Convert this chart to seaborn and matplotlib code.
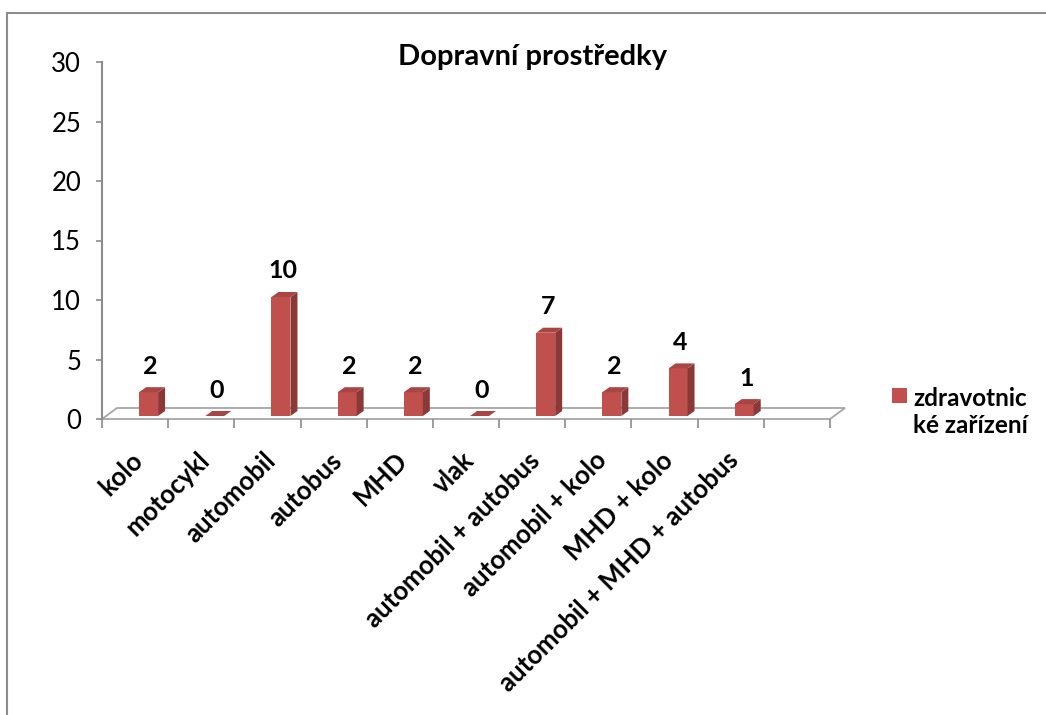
import numpy as np
import pandas as pd
import matplotlib
matplotlib.use("Agg")
import matplotlib.pyplot as plt
import seaborn as sns
from matplotlib import transforms
from matplotlib.patches import Polygon, Rectangle
from matplotlib.lines import Line2D

# ---------------- data ----------------
categories = ["kolo", "motocykl", "automobil", "autobus", "MHD", "vlak",
              "automobil + autobus", "automobil + kolo", "MHD + kolo",
              "automobil + MHD + autobus"]
values = [2, 0, 10, 2, 2, 0, 7, 2, 4, 1]
series_name = "zdravotnické zařízení"
legend_label = "zdravotnic\nké zařízení"
title = "Dopravní prostředky"
y_ticks = [0, 5, 10, 15, 20, 25, 30]

# ---------------- style ----------------
sns.set_theme(style="white")
plt.rcParams["font.family"] = ["Lato", "DejaVu Sans"]
plt.rcParams["text.color"] = "black"
plt.rcParams["xtick.color"] = "black"
plt.rcParams["ytick.color"] = "black"

FRONT = "#C0504D"
TOP = "#A94643"
SIDE = "#8A3936"
GRID = "#A6A6A6"
AXIS = "#8C8C8C"

W, H = 1046, 715
fig = plt.figure(figsize=(W / 100, H / 100), dpi=100)
fig.patch.set_facecolor("white")

n_slots = len(categories) + 1
ax = fig.add_axes([102 / W, 1 - 419 / H, (830 - 102) / W, (419 - 62) / H])
ax.set_facecolor("none")

df = pd.DataFrame({"cat": categories, "val": values, "series": series_name})
sns.barplot(data=df, x="cat", y="val", order=categories, color=FRONT,
            saturation=1, width=0.287, ax=ax, legend=False)

ax.set_xlim(-0.5, n_slots - 0.5)
ax.set_ylim(y_ticks[0], y_ticks[-1])
ax.set_xlabel("")
ax.set_ylabel("")

ppx = ax.bbox.width / n_slots
ppy = ax.bbox.height / (y_ticks[-1] - y_ticks[0])

# floor (3D base)
fdx, fdy = 15 / ppx, 11 / ppy
floor = Polygon([(-0.5, 0), (n_slots - 0.5, 0), (n_slots - 0.5 + fdx, fdy), (-0.5 + fdx, fdy)],
                closed=True, facecolor="none", edgecolor=GRID, lw=1.3,
                transform=ax.transData, clip_on=False, zorder=0.5)
ax.add_patch(floor)

# 3D bars
bar_trans = ax.transData + transforms.ScaledTranslation(0.135, 0.03, fig.dpi_scale_trans)
ddx, ddy = 7 / ppx, 5 / ppy
for p, v in zip(ax.containers[0].patches, values):
    x0, w, h = p.get_x(), p.get_width(), p.get_height()
    p.set_transform(bar_trans)
    p.set_edgecolor("none")
    p.set_zorder(2)
    p.set_clip_on(False)
    side = Polygon([(x0 + w, 0), (x0 + w + ddx, ddy), (x0 + w + ddx, h + ddy), (x0 + w, h)],
                   closed=True, facecolor=SIDE, edgecolor="none", transform=bar_trans,
                   clip_on=False, zorder=2)
    top = Polygon([(x0, h), (x0 + w, h), (x0 + w + ddx, h + ddy), (x0 + ddx, h + ddy)],
                  closed=True, facecolor=TOP, edgecolor="none", transform=bar_trans,
                  clip_on=False, zorder=2)
    ax.add_patch(side)
    ax.add_patch(top)
    ax.annotate(f"{v}", xy=(x0 + w / 2, h), xycoords=bar_trans, xytext=(2, 26),
                textcoords="offset pixels", ha="center", va="center",
                fontsize=18, fontweight="bold", color="black")

# axes styling
for s in ["top", "right", "bottom"]:
    ax.spines[s].set_visible(False)
ax.spines["left"].set_color(AXIS)
ax.spines["left"].set_linewidth(1.5)

ax.set_yticks(y_ticks)
ax.set_yticklabels([str(t) for t in y_ticks], fontsize=18.5)
ax.tick_params(axis="y", direction="out", length=4, width=1.2, color=AXIS, pad=11, left=True)

ax.set_xticks(np.arange(len(categories)))
ax.set_xticks(np.arange(-0.5, n_slots, 1), minor=True)
ax.tick_params(axis="x", which="minor", direction="out", length=6.5, width=1.2, color=AXIS, bottom=True)
ax.tick_params(axis="x", which="major", length=0, pad=27)
ax.set_xticklabels(categories, rotation=45, ha="right", va="center",
                   rotation_mode="anchor", fontsize=18.5, fontweight="bold")
lab_shift = transforms.ScaledTranslation(0.04, 0, fig.dpi_scale_trans)
for lbl in ax.get_xticklabels():
    lbl.set_transform(lbl.get_transform() + lab_shift)

# title
fig.text(533 / W, 1 - 57 / H, title, ha="center", va="center",
         fontsize=21, fontweight="bold")

# legend
fig.add_artist(Rectangle((892 / W, 1 - 403 / H), 15 / W, 15 / H,
                         transform=fig.transFigure, facecolor=FRONT, edgecolor="none"))
fig.text(913 / W, 1 - 433 / H, legend_label, ha="left", va="baseline",
         fontsize=17.5, fontweight="bold", linespacing=1.23,
         transform=fig.transFigure)

# chart frame (top + left edges visible)
fig.add_artist(Line2D([7 / W, 7 / W], [0, 1 - 13 / H], transform=fig.transFigure,
                      color=AXIS, lw=1.5))
fig.add_artist(Line2D([7 / W, 1], [1 - 13 / H, 1 - 13 / H], transform=fig.transFigure,
                      color=AXIS, lw=1.5))

fig.savefig("out.png", dpi=100, facecolor="white")
